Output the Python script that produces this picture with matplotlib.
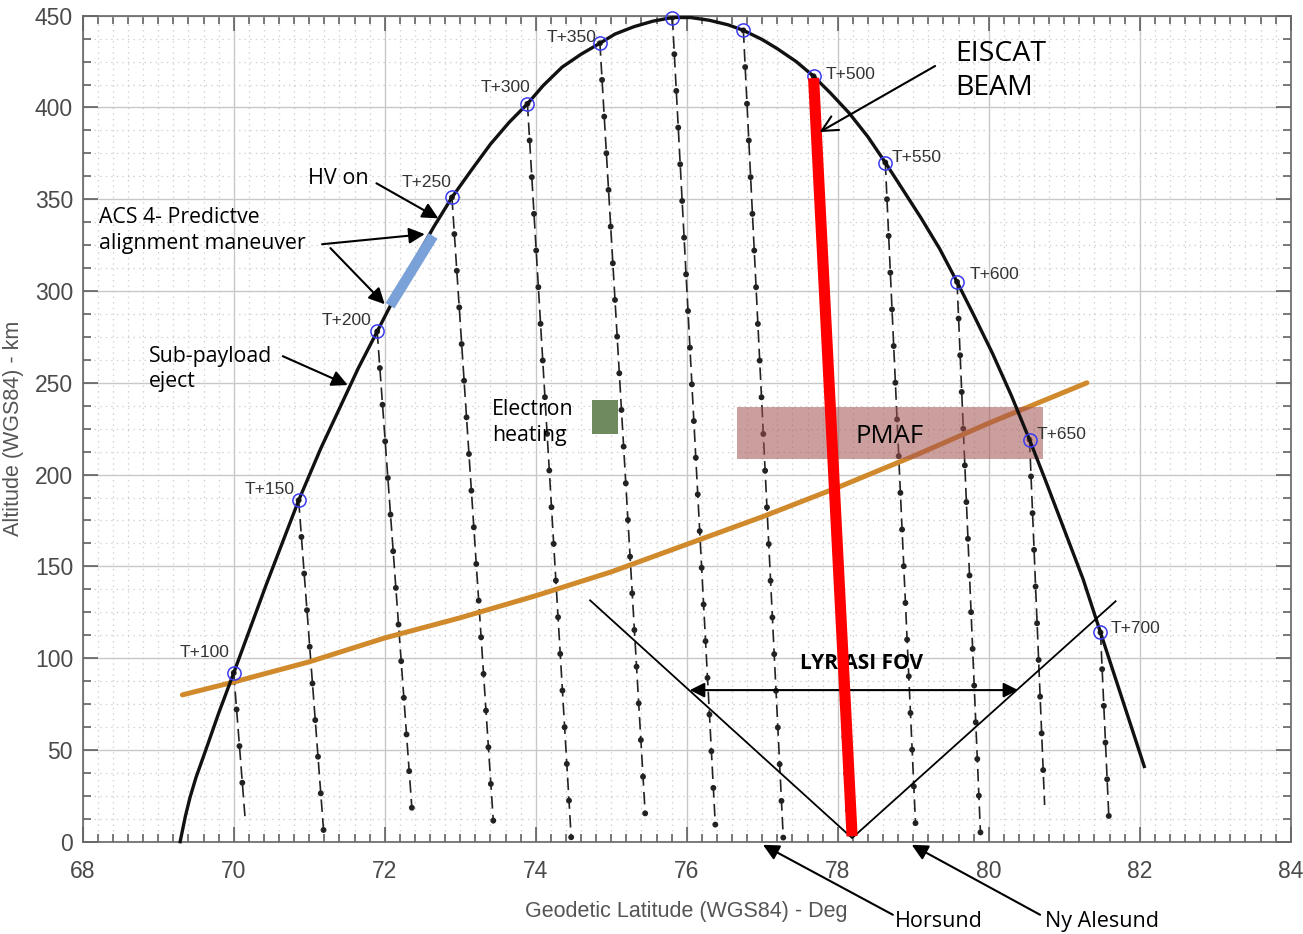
import numpy as np
import matplotlib.pyplot as plt
from matplotlib.ticker import MultipleLocator
from matplotlib.patches import Rectangle

plt.rcParams['lines.scale_dashes'] = False
NARROW = ['Liberation Sans Narrow', 'Liberation Sans', 'DejaVu Sans']
NOTE = ['Open Sans', 'DejaVu Sans']

# rocket trajectory, geodetic latitude (deg) vs altitude (km)
traj_lat = [69.29, 69.32, 69.36, 69.42, 69.50, 69.63, 69.80, 70.00, 70.43, 70.86, 71.15, 71.40, 71.65, 71.90,
            72.15, 72.40, 72.65, 72.89, 73.15, 73.40, 73.65, 73.89, 74.10, 74.35, 74.60, 74.85, 75.05, 75.30,
            75.55, 75.81, 76.05, 76.30, 76.55, 76.75, 77.00, 77.20, 77.45, 77.68, 77.90, 78.15, 78.40, 78.63,
            78.85, 79.10, 79.35, 79.58, 79.80, 80.05, 80.30, 80.54, 80.75, 81.00, 81.25, 81.48, 81.75, 82.06]
traj_alt = [0, 6, 14, 24, 35, 50, 70, 92, 140, 186, 214, 236, 258, 278,
            298, 317, 335, 351, 366, 380, 392, 402, 412, 422, 429, 435, 440, 444,
            447, 449, 449, 447.5, 445, 442, 437, 432, 425, 417, 408, 397, 384, 370,
            356, 340, 323, 305, 287, 266, 243, 219, 197, 170, 143, 114, 80, 41]

# flight time markers (s after launch)
mark_time = [100, 150, 200, 250, 300, 350, 400, 450, 500, 550, 600, 650, 700]
mark_lat = [70.00, 70.86, 71.90, 72.89, 73.89, 74.85, 75.81, 76.75, 77.68, 78.63, 79.58, 80.54, 81.48]
mark_alt = [92, 186, 278, 351, 402, 435, 449, 442, 417, 370, 305, 219, 114]
# which markers carry a label
mark_label = [True, True, True, True, True, True, False, False, True, True, True, True, True]
label_lat = [69.62, 70.47, 71.50, 72.56, 73.60, 74.48, 0, 0, 78.17, 79.05, 80.08, 80.97, 81.94]
label_alt = [103, 192, 284, 359, 411, 438, 0, 0, 418, 373, 309, 222, 116]

# footpoints of the projections from each marker
drop_lat = [70.15, 71.19, 72.36, 73.44, 74.47, 75.45, 76.38, 77.28, 78.15, 79.03, 79.89, 80.74, 81.59]
drop_alt = [13, 6, 18, 10, 2, 15, 8, 1, 3, 10, 5, 20, 14]

# orange curve
orange_lat = [69.32, 70, 71, 72, 73, 74, 75, 76, 77, 78, 79, 80, 81.30]
orange_alt = [80, 87, 98, 111, 122, 134, 147, 162, 177, 193, 210, 228, 250]

# ACS alignment segment, EISCAT beam
acs_lat, acs_alt = [72.07, 72.64], [292, 330]
beam_lat, beam_alt = [77.68, 78.19], [416, 3]

# LYR ASI field of view
fov_lat = [74.72, 78.19, 81.68]
fov_alt = [131.5, 2, 131]
fov_arrow_lat = [76.04, 80.39]
fov_arrow_alt = 82.6

# boxes: (lat0, lat1, alt0, alt1)
pmaf_box = (76.66, 80.72, 208.4, 236.8)
heating_box = (74.75, 75.09, 222, 240.5)

fig = plt.figure(figsize=(13.03, 9.34), dpi=100)
ax = fig.add_axes([0.0635, 0.0988, 0.9271, 0.8844])
ax.set_xlim(68, 84)
ax.set_ylim(0, 450)

# grid and ticks
ax.xaxis.set_major_locator(MultipleLocator(2))
ax.xaxis.set_minor_locator(MultipleLocator(0.2))
ax.yaxis.set_major_locator(MultipleLocator(50))
ax.yaxis.set_minor_locator(MultipleLocator(12.5))
ax.grid(which='major', color='#c8c8c8', lw=1.0, ls='-')
ax.grid(which='minor', color='#cfcfcf', lw=0.9, ls=(0, (1, 3)))
ax.set_axisbelow(True)
ax.tick_params(which='both', direction='in', top=True, right=True, color='#555555', width=1.1)
ax.tick_params(which='major', length=11)
ax.tick_params(which='minor', length=6)
ax.tick_params(axis='x', which='major', pad=13, labelsize=16.5, labelcolor='#4a4a4a')
ax.tick_params(axis='y', which='major', pad=7, labelsize=16.5, labelcolor='#4a4a4a')
for lab in ax.get_xticklabels() + ax.get_yticklabels():
    lab.set_family(NARROW)
for s in ax.spines.values():
    s.set_color('#666666')
    s.set_linewidth(1.2)
ax.set_xlabel('Geodetic Latitude (WGS84) - Deg', family=NARROW, fontsize=15.5, color='#555555', labelpad=13)
ax.set_ylabel('Altitude (WGS84) - km', family=NARROW, fontsize=15.5, color='#555555', labelpad=8)

# boxes
b = pmaf_box
ax.add_patch(Rectangle((b[0], b[2]), b[1] - b[0], b[3] - b[2], facecolor='#a35050', alpha=0.55,
                       edgecolor='none', zorder=4))
b = heating_box
ax.add_patch(Rectangle((b[0], b[2]), b[1] - b[0], b[3] - b[2], facecolor='#6f8a5f', edgecolor='none', zorder=4))

# projections down from each marker: dashed line with dots every 20 km
for la0, al0, la1, al1 in zip(mark_lat, mark_alt, drop_lat, drop_alt):
    ax.plot([la0, la1], [al0, al1], color='#222222', lw=1.2, ls=(0, (9, 4.5)), zorder=2)
    ax.plot([la0, la1], [al0, al1], color='#222222', lw=4.3, ls=(0, (0.01, 26.44)),
            dash_capstyle='round', zorder=2)

# orange curve
ax.plot(orange_lat, orange_alt, color='#d08a2c', lw=3.6, solid_capstyle='round', zorder=3)

# trajectory
ax.plot(traj_lat, traj_alt, color='#111111', lw=2.4, zorder=5, clip_on=False)
ax.plot(mark_lat, mark_alt, 'o', mfc='none', mec='#3a3af0', ms=9.5, mew=1.1, zorder=6, clip_on=False)
for t, show, la, al in zip(mark_time, mark_label, label_lat, label_alt):
    if show:
        ax.text(la, al, 'T+{}'.format(t), family=NARROW, fontsize=12.5, color='#333333',
                ha='center', va='center', zorder=6)

# ACS alignment segment
ax.plot(acs_lat, acs_alt, color='#7aa1d8', lw=7.5, solid_capstyle='butt', zorder=6)

# LYR ASI FOV
ax.plot(fov_lat, fov_alt, color='k', lw=1.3, zorder=6)
ax.annotate('', xy=(fov_arrow_lat[0], fov_arrow_alt), xytext=(fov_arrow_lat[1], fov_arrow_alt),
            arrowprops=dict(arrowstyle='<|-|>', color='k', lw=1.5, mutation_scale=22, shrinkA=0, shrinkB=0),
            zorder=6)
ax.text(78.32, 97, 'LYR ASI FOV', family=NOTE, fontsize=15, fontweight='bold', ha='center', va='center', zorder=6)

# EISCAT beam on top of the FOV label
ax.plot(beam_lat, beam_alt, color='#ff0000', lw=8, solid_capstyle='butt', zorder=7)

# text annotations
ax.text(68.22, 333, 'ACS 4- Predictve\nalignment maneuver', family=NOTE, fontsize=15.3, ha='left', va='center',
        linespacing=1.35, zorder=8)
ax.text(70.98, 361.5, 'HV on', family=NOTE, fontsize=15.5, ha='left', va='center', zorder=8)
ax.text(68.88, 257.5, 'Sub-payload\neject', family=NOTE, fontsize=15.3, ha='left', va='center',
        linespacing=1.3, zorder=8)
ax.text(73.42, 228.3, 'Electron\nheating', family=NOTE, fontsize=15.3, ha='left', va='center',
        linespacing=1.35, zorder=8)
ax.text(79.56, 420, 'EISCAT\nBEAM', family=NOTE, fontsize=20.5, ha='left', va='center',
        linespacing=1.3, zorder=8)
ax.text(78.69, 221, 'PMAF', family=NOTE, fontsize=18.5, ha='center', va='center', zorder=8)
ax.text(78.76, -43.7, 'Horsund', family=NOTE, fontsize=15.5, ha='left', va='center', clip_on=False)
ax.text(80.75, -43.7, 'Ny Alesund', family=NOTE, fontsize=15.5, ha='left', va='center', clip_on=False)

filled = dict(arrowstyle='-|>', color='k', lw=1.5, mutation_scale=24, shrinkA=0, shrinkB=0)
arrows = [((72.71, 339.6), (71.89, 358.7)),
          ((72.53, 331.0), (71.17, 325.5)),
          ((72.00, 292.8), (71.28, 323.4)),
          ((71.51, 248.8), (70.65, 264.5)),
          ((77.01, -1.7), (78.73, -39.8)),
          ((78.98, -1.7), (80.68, -39.8))]
for head, tail in arrows:
    ax.annotate('', xy=head, xytext=tail, arrowprops=filled, annotation_clip=False, zorder=8)
ax.annotate('', xy=(77.76, 386.6), xytext=(79.29, 422.6),
            arrowprops=dict(arrowstyle='->', color='k', lw=1.5, mutation_scale=28, shrinkA=0, shrinkB=0),
            zorder=8)

fig.savefig('out.png', dpi=100)
